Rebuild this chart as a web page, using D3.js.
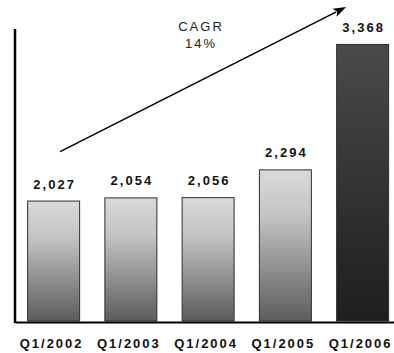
<!DOCTYPE html>
<html>
<head>
<meta charset="utf-8">
<script src="https://cdn.jsdelivr.net/npm/d3@7"></script>
<style>
  html, body { margin: 0; padding: 0; background: #fff; }
  svg { display: block; font-family: "Liberation Sans", Arial, sans-serif; }
</style>
</head>
<body>
<svg id="chart" width="394" height="353"></svg>
<script>
// Quarterly values, first quarter of each year
const categories = ["Q1/2002", "Q1/2003", "Q1/2004", "Q1/2005", "Q1/2006"];
const values = [2027, 2054, 2056, 2294, 3368];
const valueLabels = ["2,027", "2,054", "2,056", "2,294", "3,368"];
const cagrLines = ["CAGR", "14%"];

const svg = d3.select("#chart");
const defs = svg.append("defs");

const x = d3.scaleBand()
  .domain(categories)
  .range([15, 401.25])
  .paddingInner(0.327)
  .paddingOuter(0.1635);

const y = d3.scaleLinear()
  .domain([1000, 3500])
  .range([321, 29]);

// Bar fills: light-to-dark gray for earlier years, dark charcoal for the latest
const gLight = defs.append("linearGradient")
  .attr("id", "barLight").attr("x1", 0).attr("y1", 0).attr("x2", 0).attr("y2", 1);
gLight.append("stop").attr("offset", "0%").attr("stop-color", "#d9d9d9");
gLight.append("stop").attr("offset", "30%").attr("stop-color", "#c4c4c4");
gLight.append("stop").attr("offset", "100%").attr("stop-color", "#5c5c5c");

const gDark = defs.append("linearGradient")
  .attr("id", "barDark").attr("x1", 0).attr("y1", 0).attr("x2", 0).attr("y2", 1);
gDark.append("stop").attr("offset", "0%").attr("stop-color", "#4a4a4a");
gDark.append("stop").attr("offset", "100%").attr("stop-color", "#1e1e1e");

const data = categories.map((c, i) => ({ cat: c, value: values[i], label: valueLabels[i], last: i === categories.length - 1 }));

svg.append("g").selectAll("rect")
  .data(data)
  .join("rect")
  .attr("x", d => x(d.cat))
  .attr("y", d => y(d.value))
  .attr("width", x.bandwidth())
  .attr("height", d => y(1000) - y(d.value))
  .attr("fill", d => d.last ? "url(#barDark)" : "url(#barLight)")
  .attr("stroke", "#2e2e2e")
  .attr("stroke-width", 1);

// Value labels above each bar
svg.append("g").selectAll("text")
  .data(data)
  .join("text")
  .attr("x", d => x(d.cat) + x.bandwidth() / 2 + 1)
  .attr("y", d => y(d.value) - 12.5)
  .attr("text-anchor", "middle")
  .attr("font-size", 13)
  .attr("font-weight", "bold")
  .attr("letter-spacing", 2)
  .attr("fill", "#111")
  .text(d => d.label);

// Category axis along the bottom
const xAxis = svg.append("g")
  .attr("transform", `translate(0,${y(1000) + 1})`)
  .call(d3.axisBottom(x).tickSize(0).tickPadding(17));
xAxis.select(".domain").attr("stroke", "#000").attr("stroke-width", 2);
xAxis.selectAll("text")
  .attr("font-family", "'Liberation Sans', Arial, sans-serif")
  .attr("font-size", 13)
  .attr("font-weight", "bold")
  .attr("letter-spacing", 2)
  .attr("dx", -2)
  .attr("fill", "#111");

// Plain vertical axis line on the left
const yAxis = svg.append("g")
  .attr("transform", "translate(15,0)")
  .call(d3.axisLeft(y).ticks(0).tickSize(0).tickSizeOuter(0));
yAxis.select(".domain")
  .attr("stroke", "#000")
  .attr("stroke-width", 2.5)
  .attr("d", `M0,${y(3500)}V${y(1000) + 2}`);

// Growth arrow from the first bar up past the last one
const x0 = x(categories[0]) + 32.5, y0 = y(values[0]) - 49.5;
const x1 = x(categories[4]) + 9.5, y1 = y(values[4]) - 37.5;
const ang = Math.atan2(y1 - y0, x1 - x0);
const headLen = 13, headHalf = 4.5;
const bx = x1 - headLen * Math.cos(ang), by = y1 - headLen * Math.sin(ang);
svg.append("line")
  .attr("x1", x0).attr("y1", y0)
  .attr("x2", bx + 2 * Math.cos(ang)).attr("y2", by + 2 * Math.sin(ang))
  .attr("stroke", "#000").attr("stroke-width", 1.5);
svg.append("path")
  .attr("d", d3.line()([
    [x1, y1],
    [bx + headHalf * Math.sin(ang), by - headHalf * Math.cos(ang)],
    [bx + 3 * Math.cos(ang), by + 3 * Math.sin(ang)],
    [bx - headHalf * Math.sin(ang), by + headHalf * Math.cos(ang)]
  ]) + "Z")
  .attr("fill", "#000");

// Growth-rate annotation
svg.append("g").selectAll("text")
  .data(cagrLines)
  .join("text")
  .attr("x", 201)
  .attr("y", (d, i) => 31 + i * 17)
  .attr("text-anchor", "middle")
  .attr("font-size", 13)
  .attr("letter-spacing", 2)
  .attr("fill", "#222")
  .text(d => d);
</script>
</body>
</html>
